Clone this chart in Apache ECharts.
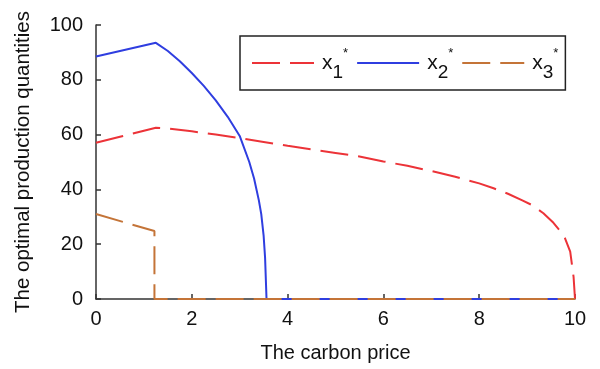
<!DOCTYPE html>
<html>
<head>
<meta charset="utf-8">
<script src="https://cdn.jsdelivr.net/npm/echarts@6/dist/echarts.min.js"></script>
<style>
  html, body { margin: 0; padding: 0; background: #fff; }
  #chart { width: 600px; height: 369px; }
</style>
</head>
<body>
<div id="chart"></div>
<script>
// carbon price (x) and optimal quantities
const priceX1 = [0, 0.5, 1.0, 1.25, 1.5, 2, 2.5, 3, 3.5, 4, 4.5, 5, 5.5, 6, 6.5, 7, 7.5, 8, 8.3, 8.6, 8.9, 9.1, 9.34, 9.55, 9.7, 9.79, 9.9, 9.97, 10];
const valuesX1 = [57, 59.2, 61.4, 62.5, 62.2, 61.2, 60, 58.7, 57.3, 55.9, 54.6, 53.3, 52, 50.2, 48.6, 46.7, 44.6, 42.2, 40.4, 38.4, 36, 34.3, 31.3, 27.8, 24.6, 22.2, 17.3, 8.1, 0];

const priceX2 = [0, 0.5, 1.0, 1.25, 1.5, 1.75, 2, 2.25, 2.5, 2.75, 3, 3.2, 3.3, 3.4, 3.45, 3.5, 3.53, 3.55, 3.56, 10];
const valuesX2 = [88.5, 90.5, 92.5, 93.5, 90.5, 86.8, 82.5, 77.8, 72.5, 66.5, 59.5, 50, 44, 36, 31, 23, 15, 5, 0, 0];

const priceX3 = [0, 1.22, 1.22, 10];
const valuesX3 = [31, 24.8, 0, 0];

const xTicks = [0, 2, 4, 6, 8, 10];
const yTicks = [0, 20, 40, 60, 80, 100];

const font = 'Liberation Sans, Arial, sans-serif';
const axisColor = '#333';

function pairs(xs, ys) {
  return xs.map((x, i) => [x, ys[i]]);
}

const myChart = echarts.init(document.getElementById('chart'));
const option = {
  animation: false,
  grid: { left: 96, right: 25, top: 25, bottom: 70 },
  legend: {
    data: ['x1', 'x2', 'x3'],
    left: 240,
    top: 36,
    orient: 'horizontal',
    padding: [8, 7, 8, 11],
    itemWidth: 62,
    itemHeight: 14,
    itemGap: 8,
    borderColor: '#222',
    borderWidth: 1.5,
    borderRadius: 0,
    itemStyle: { opacity: 0 },
    formatter: function (name) {
      return '{x|x}{s|' + name.slice(1) + '}{p|*}';
    },
    textStyle: {
      fontFamily: font,
      color: '#111',
      rich: {
        x: { fontSize: 21, lineHeight: 38, verticalAlign: 'middle', padding: [0, 0, 0, 3], fontFamily: font, color: '#111' },
        s: { fontSize: 19, lineHeight: 19, verticalAlign: 'bottom', fontFamily: font, color: '#111' },
        p: { fontSize: 13, lineHeight: 13, verticalAlign: 'top', padding: [3, 0, 0, 0], fontFamily: font, color: '#111' }
      }
    }
  },
  xAxis: {
    type: 'value',
    min: 0,
    max: 10,
    interval: 2,
    name: 'The carbon price',
    nameLocation: 'middle',
    nameGap: 44,
    nameTextStyle: { fontFamily: font, fontSize: 20, color: '#111' },
    axisLine: { show: true, lineStyle: { color: axisColor, width: 1.5 } },
    axisTick: { show: true, inside: true, length: 5, lineStyle: { color: axisColor, width: 1.5 } },
    axisLabel: {
      margin: 10,
      fontFamily: font,
      fontSize: 20,
      color: '#111',
      customValues: xTicks
    },
    splitLine: { show: false }
  },
  yAxis: {
    type: 'value',
    min: 0,
    max: 100,
    interval: 20,
    name: 'The optimal production quantities',
    nameLocation: 'middle',
    nameGap: 62,
    nameTextStyle: { fontFamily: font, fontSize: 20.5, color: '#111' },
    axisLine: { show: true, lineStyle: { color: axisColor, width: 1.5 } },
    axisTick: { show: true, inside: true, length: 5, lineStyle: { color: axisColor, width: 1.5 } },
    axisLabel: {
      margin: 13,
      fontFamily: font,
      fontSize: 20,
      color: '#111',
      customValues: yTicks
    },
    splitLine: { show: false }
  },
  series: [
    {
      name: 'x2',
      type: 'line',
      data: pairs(priceX2, valuesX2),
      symbol: 'none',
      z: 2,
      lineStyle: { color: '#2f3ee0', width: 2, type: 'solid' },
      itemStyle: { color: '#2f3ee0' }
    },
    {
      name: 'x1',
      type: 'line',
      data: pairs(priceX1, valuesX1),
      symbol: 'none',
      z: 3,
      lineStyle: { color: '#ec3338', width: 2, type: [28, 10] },
      itemStyle: { color: '#ec3338' }
    },
    {
      name: 'x3',
      type: 'line',
      data: pairs(priceX3, valuesX3),
      symbol: 'none',
      z: 4,
      lineStyle: { color: '#c47438', width: 2, type: [28, 10] },
      itemStyle: { color: '#c47438' }
    }
  ]
};
myChart.setOption(option);
window.addEventListener('resize', function () {
  myChart.resize();
});
</script>
</body>
</html>
